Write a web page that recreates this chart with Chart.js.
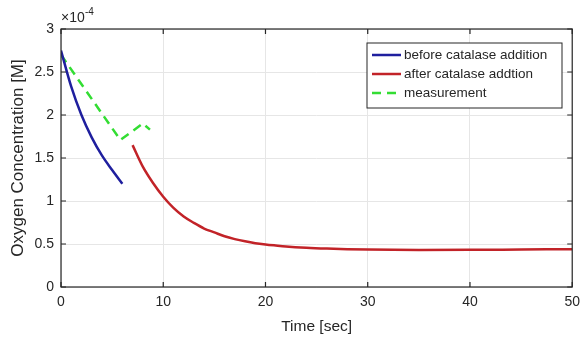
<!DOCTYPE html>
<html>
<head>
<meta charset="utf-8">
<script src="https://cdn.jsdelivr.net/npm/chart.js@4.4.1/dist/chart.umd.min.js"></script>
<style>
  html, body { margin: 0; padding: 0; background: #fff; }
  #wrap { width: 587px; height: 340px; }
</style>
</head>
<body>
<div id="wrap"><canvas id="myChart" width="587" height="340"></canvas></div>
<script>
// values in units of 1e-4 M
const beforeTime = [0, 1, 2, 3, 4, 5, 6];
const beforeConc = [2.75, 2.33, 2.0, 1.74, 1.53, 1.36, 1.2];

const afterTime = [7, 8, 9, 10, 11, 12, 13, 14, 15, 16, 17, 18, 19, 20, 21, 22, 24, 26, 28, 30, 35, 40, 45, 50];
const afterConc = [1.65, 1.40, 1.21, 1.05, 0.92, 0.82, 0.745, 0.68, 0.635, 0.59, 0.557, 0.531, 0.51, 0.495, 0.483, 0.472, 0.457, 0.447, 0.44, 0.435, 0.43, 0.432, 0.436, 0.44];

const measTime = [0, 5.8, 8, 8.7];
const measConc = [2.70, 1.71, 1.90, 1.83];

const xTicks = [0, 10, 20, 30, 40, 50];
const yTicks = [0, 0.5, 1, 1.5, 2, 2.5, 3];

function pts(xs, ys) {
    return xs.map((x, i) => ({x: x, y: ys[i]}));
}

const FONT = 'Liberation Sans, Arial, sans-serif';
const AXIS = '#262626';

// box, inward ticks, exponent label and legend, matlab style
const matlabStuff = {
    id: 'matlabStuff',
    afterDraw(chart) {
        const ctx = chart.ctx;
        const a = chart.chartArea;
        const xs = chart.scales.x, ys = chart.scales.y;
        ctx.save();
        ctx.strokeStyle = AXIS;
        ctx.lineWidth = 1.2;
        ctx.strokeRect(a.left, a.top, a.right - a.left, a.bottom - a.top);
        ctx.beginPath();
        xTicks.forEach(t => {
            const px = xs.getPixelForValue(t);
            ctx.moveTo(px, a.bottom); ctx.lineTo(px, a.bottom - 5);
            ctx.moveTo(px, a.top); ctx.lineTo(px, a.top + 5);
        });
        yTicks.forEach(t => {
            const py = ys.getPixelForValue(t);
            ctx.moveTo(a.left, py); ctx.lineTo(a.left + 5, py);
            ctx.moveTo(a.right, py); ctx.lineTo(a.right - 5, py);
        });
        ctx.stroke();

        // x10^-4
        ctx.fillStyle = AXIS;
        ctx.font = '14px ' + FONT;
        ctx.textBaseline = 'alphabetic';
        ctx.textAlign = 'left';
        ctx.fillText('\u00d710', a.left, 22);
        ctx.font = '10px ' + FONT;
        ctx.fillText('-4', a.left + 24, 15);

        // legend
        const lx = 367, ly = 43, lw = 195, lh = 65;
        ctx.fillStyle = '#fff';
        ctx.fillRect(lx, ly, lw, lh);
        ctx.strokeStyle = AXIS;
        ctx.lineWidth = 1;
        ctx.strokeRect(lx, ly, lw, lh);
        ctx.font = '13.5px ' + FONT;
        ctx.textBaseline = 'middle';
        chart.data.datasets.forEach((ds, i) => {
            const yy = ly + 12 + i * 19;
            ctx.strokeStyle = ds.borderColor;
            ctx.lineWidth = ds.borderWidth;
            ctx.setLineDash(ds.borderDash || []);
            ctx.beginPath();
            ctx.moveTo(lx + 5, yy);
            ctx.lineTo(lx + 34, yy);
            ctx.stroke();
            ctx.setLineDash([]);
            ctx.fillStyle = AXIS;
            ctx.fillText(ds.label, lx + 37, yy);
        });
        ctx.restore();
    }
};

const ctx = document.getElementById('myChart').getContext('2d');
const myChart = new Chart(ctx, {
    type: 'line',
    data: {
        datasets: [{
            label: 'before catalase addition',
            data: pts(beforeTime, beforeConc),
            borderColor: '#1f1f9e',
            borderWidth: 2.5,
            pointRadius: 0,
            cubicInterpolationMode: 'monotone'
        }, {
            label: 'after catalase addtion',
            data: pts(afterTime, afterConc),
            borderColor: '#c22328',
            borderWidth: 2.5,
            pointRadius: 0,
            cubicInterpolationMode: 'monotone'
        }, {
            label: 'measurement',
            data: pts(measTime, measConc),
            borderColor: '#33dd33',
            borderWidth: 2.5,
            borderDash: [9, 6],
            pointRadius: 0,
            tension: 0
        }]
    },
    options: {
        responsive: false,
        animation: false,
        layout: { padding: { left: 0, right: 12, top: 29, bottom: 0 } },
        plugins: {
            legend: { display: false },
            tooltip: { enabled: false }
        },
        scales: {
            x: {
                type: 'linear',
                min: 0,
                max: 50,
                afterBuildTicks: s => { s.ticks = xTicks.map(v => ({value: v})); },
                afterFit: s => { s.height = 53; },
                grid: { color: '#e6e6e6', drawTicks: false },
                border: { display: false },
                ticks: { color: AXIS, padding: 7, font: { family: FONT, size: 14 }, callback: v => String(v) },
                title: {
                    display: true,
                    text: 'Time [sec]',
                    color: AXIS,
                    font: { family: FONT, size: 15.5 },
                    padding: { top: 1 }
                }
            },
            y: {
                min: 0,
                max: 3,
                afterBuildTicks: s => { s.ticks = yTicks.map(v => ({value: v})); },
                afterFit: s => { s.width = 61; },
                grid: { color: '#e6e6e6', drawTicks: false },
                border: { display: false },
                ticks: { color: AXIS, padding: 7, font: { family: FONT, size: 14 }, callback: v => String(v) },
                title: {
                    display: true,
                    text: 'Oxygen Concentration [M]',
                    color: AXIS,
                    font: { family: FONT, size: 17 },
                    padding: { top: 8, bottom: 0 }
                }
            }
        }
    },
    plugins: [matlabStuff]
});
</script>
</body>
</html>
